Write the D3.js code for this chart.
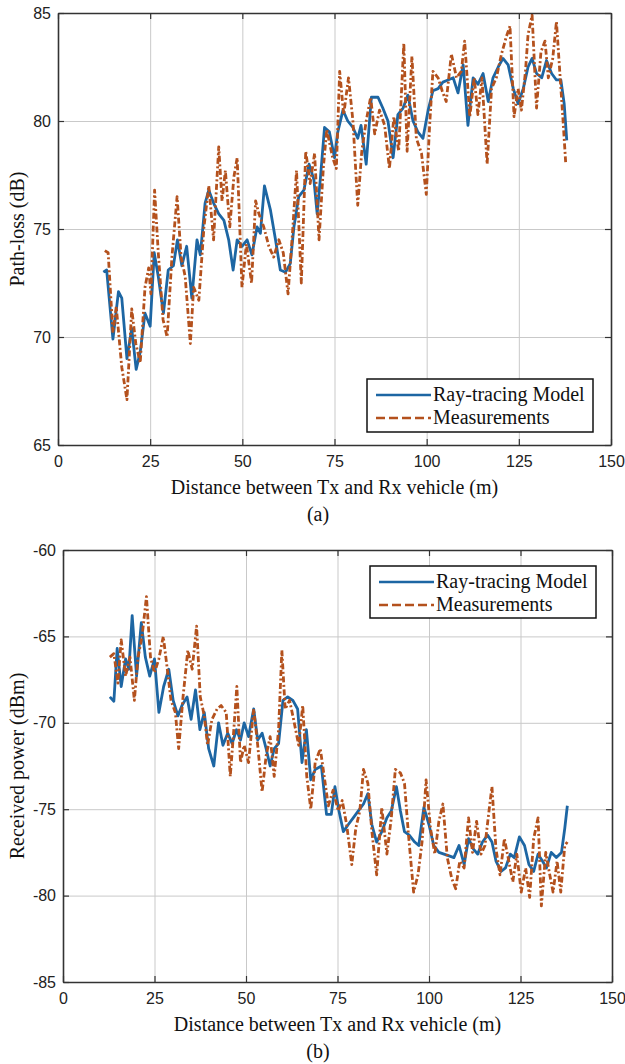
<!DOCTYPE html>
<html>
<head>
<meta charset="utf-8">
<script src="https://cdn.jsdelivr.net/npm/d3@7"></script>
<style>
  html, body { margin: 0; padding: 0; background: #fff; }
  svg { display: block; }
  .tick text { font-family: "Liberation Sans", Arial, sans-serif; font-size: 16px; fill: #222; }
  .ttl { font-family: "Liberation Serif", "Times New Roman", serif; font-size: 20px; fill: #111; }
  .leg { font-family: "Liberation Serif", "Times New Roman", serif; font-size: 20px; fill: #111; }
</style>
</head>
<body>
<script>
// ---- (a) Path-loss versus Tx-Rx distance ----
const plModelDist = [12.3,13.2,14.9,16.4,17.3,18.7,20.0,21.2,22.3,23.6,25.0,26.1,27.2,28.6,29.9,31.3,32.4,33.6,34.9,36.3,37.7,38.6,39.9,40.9,42.2,43.6,45.0,46.3,47.5,48.6,49.9,51.3,52.6,54.0,54.9,56.0,57.6,59.0,60.3,61.7,63.0,64.0,65.3,66.7,68.1,69.4,70.3,71.2,72.3,73.6,75.0,75.9,77.3,78.6,80.0,81.3,82.2,83.6,85.0,86.8,88.1,89.5,90.9,92.2,93.6,94.9,96.3,97.6,99.0,100.4,101.7,103.1,104.4,105.8,107.2,108.5,109.9,111.2,112.6,113.9,115.3,116.7,118.0,119.4,120.7,122.1,123.5,124.8,126.2,127.5,128.6,129.8,131.2,132.5,133.9,135.2,136.4,137.3,138.0];
const plModel = [73.0,73.1,69.9,72.1,71.8,69.0,70.4,68.5,69.3,71.1,70.5,73.9,72.8,71.1,73.1,73.3,74.5,73.3,74.2,71.8,74.5,73.8,76.2,76.8,76.2,75.7,75.4,74.5,73.1,74.5,74.2,74.5,73.8,75.1,74.8,77.0,75.9,74.5,73.1,73.0,73.4,75.1,76.5,76.8,78.0,77.3,75.7,77.4,79.7,79.5,78.3,79.5,80.5,80.0,79.7,79.2,79.8,78.0,81.1,81.1,80.6,80.0,78.3,80.3,80.6,81.2,80.0,79.5,79.2,80.5,81.4,81.5,81.8,81.9,82.0,81.3,82.6,79.8,82.0,81.7,82.2,80.9,82.0,82.5,82.9,82.6,81.5,80.8,81.5,82.5,82.9,82.2,82.0,82.8,82.2,81.9,81.9,80.8,79.1];

const plMeasDist = [12.7,13.6,14.9,15.8,17.3,18.7,20.0,21.1,22.3,23.6,24.6,25.2,26.2,27.2,28.5,29.6,30.9,32.3,33.4,34.5,35.9,36.8,38.2,39.6,40.9,42.2,43.6,44.5,45.4,46.6,47.7,48.6,49.3,49.9,51.1,52.5,53.6,54.5,55.8,57.2,58.5,59.9,61.1,62.4,63.6,64.7,66.0,67.2,68.4,69.6,70.8,72.0,72.9,74.5,75.5,76.4,77.5,78.8,80.0,81.3,82.4,83.6,84.8,85.9,87.2,88.6,89.9,91.1,92.4,93.8,94.7,96.0,97.2,98.6,99.9,100.8,101.7,103.1,104.2,105.3,106.7,108.1,109.4,110.3,111.7,112.9,113.9,115.0,116.4,117.6,118.9,120.3,121.6,122.6,123.7,124.8,125.7,126.8,127.5,128.6,129.8,131.0,132.1,133.0,134.2,135.2,136.1,137.0,137.7];
const plMeas = [74.0,73.9,70.2,71.4,68.6,67.1,71.3,69.7,68.8,72.3,73.2,72.0,76.8,73.9,70.8,70.0,73.7,76.5,73.7,72.8,69.7,72.3,71.7,75.1,77.0,74.5,78.8,76.3,77.7,75.1,77.4,78.3,75.1,72.3,74.3,72.5,76.3,75.7,75.1,74.2,73.7,74.5,73.9,72.0,74.8,77.7,72.5,78.6,77.1,78.5,74.5,77.9,79.6,78.3,77.8,82.3,80.3,82.0,80.0,76.1,78.6,80.0,81.1,79.4,80.5,79.8,77.8,80.2,78.6,83.6,78.6,83.0,79.2,78.5,76.6,79.8,82.3,82.0,81.4,80.9,83.1,82.0,82.3,83.7,80.2,82.0,80.3,82.0,78.0,81.5,82.0,83.1,83.9,84.4,80.2,81.5,80.5,82.3,84.0,84.9,80.6,83.2,83.7,82.0,82.9,84.6,82.3,80.0,78.1];

// ---- (b) Received power versus Tx-Rx distance ----
const rpModelDist = [12.8,13.9,14.8,15.9,17.1,18.0,18.9,20.1,21.4,22.5,23.7,25.0,26.2,27.5,28.9,30.1,31.4,32.5,33.9,35.0,36.2,37.4,38.6,39.8,41.2,42.5,43.7,45.0,46.2,47.4,48.5,49.5,50.7,52.1,53.2,54.4,55.5,56.6,57.7,58.9,60.1,61.4,62.8,64.1,65.3,66.5,67.7,68.9,70.6,72.0,73.3,74.3,75.4,76.6,77.9,79.3,80.7,82.1,83.3,84.4,85.7,87.1,88.5,89.7,91.1,92.2,93.3,94.6,96.1,97.2,98.6,100.0,101.3,102.7,104.1,105.5,106.8,108.2,109.6,110.8,112.1,113.3,114.6,116.0,117.2,118.3,119.7,120.9,122.2,123.3,124.7,126.1,127.3,128.6,129.8,131.0,132.1,133.4,134.8,136.2,137.1,137.8];
const rpModel = [-68.5,-68.75,-65.7,-67.9,-66.3,-66.9,-63.8,-67.3,-64.2,-66.2,-67.3,-66.3,-69.4,-67.9,-66.9,-68.7,-69.6,-69.0,-68.5,-69.8,-68.1,-70.4,-69.4,-71.5,-72.5,-70.0,-71.3,-70.6,-71.2,-70.4,-71.0,-70.0,-70.8,-69.2,-71.0,-70.6,-71.5,-72.5,-71.5,-71.2,-68.7,-68.5,-68.7,-69.2,-72.3,-70.4,-73.3,-72.7,-72.5,-75.3,-75.3,-73.7,-75.1,-76.3,-75.9,-75.5,-75.1,-74.7,-74.1,-75.9,-76.9,-76.3,-75.5,-75.1,-73.7,-75.1,-76.3,-76.5,-76.9,-77.1,-74.9,-75.9,-77.1,-77.5,-77.6,-77.7,-77.8,-77.1,-78.2,-76.7,-77.3,-77.6,-76.9,-76.5,-76.9,-78.0,-78.6,-78.4,-77.6,-77.8,-76.6,-77.1,-78.2,-78.6,-77.6,-78.0,-78.4,-77.5,-77.8,-77.5,-76.1,-74.8];

const rpMeasDist = [12.8,13.9,15.0,15.9,17.1,18.3,19.5,20.5,21.6,22.8,23.9,25.0,26.2,27.4,28.5,29.5,30.7,31.6,32.8,34.1,35.3,36.5,37.5,38.6,39.5,40.7,42.1,43.2,44.6,45.7,46.6,47.5,48.5,49.5,50.7,52.1,53.2,54.4,55.5,56.6,57.7,58.9,59.8,60.7,61.9,63.0,64.4,65.5,66.6,67.7,68.9,70.3,71.5,72.5,73.8,75.2,76.3,77.5,78.9,80.0,81.1,82.1,83.3,84.4,85.7,87.1,88.5,89.7,90.8,92.2,93.3,94.4,95.8,97.0,98.1,99.2,100.4,101.6,102.7,103.8,105.0,106.2,107.3,108.4,109.6,110.8,111.9,113.0,114.2,115.3,116.5,117.2,118.3,119.4,120.6,121.8,122.9,124.0,125.2,126.4,127.5,128.6,129.8,130.7,131.9,133.0,133.9,135.0,136.0,137.1,137.8];
const rpMeas = [-66.2,-66.0,-67.7,-65.2,-67.3,-66.2,-68.7,-66.2,-65.0,-62.7,-66.2,-67.1,-66.3,-65.0,-66.9,-68.7,-69.4,-71.5,-68.5,-65.8,-66.9,-64.4,-68.5,-69.6,-71.3,-69.8,-69.2,-69.0,-69.4,-73.1,-70.6,-67.9,-72.3,-71.3,-72.3,-69.2,-71.3,-74.0,-71.9,-70.8,-73.1,-70.4,-65.8,-69.2,-68.7,-69.8,-71.3,-69.0,-73.1,-75.0,-72.3,-71.5,-73.3,-74.8,-73.9,-75.1,-74.5,-75.9,-78.2,-76.1,-75.1,-72.7,-73.5,-76.3,-78.8,-74.9,-77.6,-75.5,-72.7,-72.9,-73.5,-76.5,-79.8,-78.8,-76.9,-73.3,-76.1,-77.6,-75.7,-74.7,-77.8,-79.0,-79.6,-78.0,-78.4,-75.5,-77.5,-75.7,-77.6,-77.1,-74.9,-73.7,-77.3,-78.8,-76.7,-78.0,-79.2,-77.6,-79.8,-78.4,-80.1,-76.7,-75.5,-80.6,-77.5,-78.8,-79.8,-78.0,-79.8,-77.1,-76.9];

// ---- shared axis settings ----
const xDomain = [0, 150];
const xTicks = [0, 25, 50, 75, 100, 125, 150];
const seriesNames = ["Ray-tracing Model", "Measurements"];

const COLOR_MODEL = "#1d66a3";
const COLOR_MEAS = "#b4511d";
const MEAS_DASH = "6,2.5,2,2.5";

const W = 625, H = 1064;
const svg = d3.select("body").append("svg").attr("width", W).attr("height", H);

const panels = [
  {
    box: { left: 58, top: 13, right: 611, bottom: 445 },
    yDomain: [65, 85], yTicks: [65, 70, 75, 80, 85],
    yLabel: "Path-loss (dB)",
    caption: "(a)",
    model: { x: plModelDist, y: plModel },
    meas: { x: plMeasDist, y: plMeas },
    legend: { x: 367, y: 379, w: 226, h: 53 }
  },
  {
    box: { left: 63, top: 550, right: 612, bottom: 982 },
    yDomain: [-85, -60], yTicks: [-85, -80, -75, -70, -65, -60],
    yLabel: "Received power (dBm)",
    caption: "(b)",
    model: { x: rpModelDist, y: rpModel },
    meas: { x: rpMeasDist, y: rpMeas },
    legend: { x: 370, y: 566, w: 226, h: 52 }
  }
];

// plain hyphen-minus for negative tick labels
const tickFmt = d => String(d);

panels.forEach(p => {
  const b = p.box;
  const w = b.right - b.left, h = b.bottom - b.top;
  const x = d3.scaleLinear().domain(xDomain).range([0, w]);
  const y = d3.scaleLinear().domain(p.yDomain).range([h, 0]);
  const g = svg.append("g").attr("transform", `translate(${b.left},${b.top})`);

  // grid
  const gridStyle = sel => {
    sel.select(".domain").remove();
    sel.selectAll(".tick line").attr("stroke", "#c9c9c9").attr("stroke-width", 1);
  };
  g.append("g").attr("transform", `translate(0,${h})`)
    .call(d3.axisBottom(x).tickValues(xTicks.slice(1, -1)).tickSize(-h).tickFormat(""))
    .call(gridStyle);
  g.append("g")
    .call(d3.axisLeft(y).tickValues(p.yTicks.slice(1, -1)).tickSize(-w).tickFormat(""))
    .call(gridStyle);

  // data lines
  const line = d3.line().x(d => x(d[0])).y(d => y(d[1]));
  const modelPts = p.model.x.map((v, i) => [v, p.model.y[i]]);
  const measPts = p.meas.x.map((v, i) => [v, p.meas.y[i]]);
  g.append("path").datum(modelPts).attr("d", line)
    .attr("fill", "none").attr("stroke", COLOR_MODEL).attr("stroke-width", 2.8)
    .attr("stroke-linejoin", "round");
  g.append("path").datum(measPts).attr("d", line)
    .attr("fill", "none").attr("stroke", COLOR_MEAS).attr("stroke-width", 2.8)
    .attr("stroke-dasharray", MEAS_DASH).attr("stroke-linejoin", "round");

  // axes with inward ticks on all four sides
  const axStyle = sel => {
    sel.select(".domain").attr("stroke", "#333").attr("stroke-width", 1.6);
    sel.selectAll(".tick line").attr("stroke", "#333").attr("stroke-width", 1.2);
  };
  g.append("g").attr("transform", `translate(0,${h})`)
    .call(d3.axisBottom(x).tickValues(xTicks).tickSizeInner(-6).tickSizeOuter(0).tickPadding(11).tickFormat(tickFmt))
    .call(axStyle);
  g.append("g")
    .call(d3.axisTop(x).tickValues(xTicks).tickSizeInner(-6).tickSizeOuter(0).tickFormat(""))
    .call(axStyle);
  g.append("g")
    .call(d3.axisLeft(y).tickValues(p.yTicks).tickSizeInner(-6).tickSizeOuter(0).tickPadding(7).tickFormat(tickFmt))
    .call(axStyle);
  g.append("g").attr("transform", `translate(${w},0)`)
    .call(d3.axisRight(y).tickValues(p.yTicks).tickSizeInner(-6).tickSizeOuter(0).tickFormat(""))
    .call(axStyle);
  g.selectAll(".tick text").attr("font-family", null).attr("font-size", null);

  // axis titles and caption
  g.append("text").attr("class", "ttl").attr("text-anchor", "middle")
    .attr("x", w / 2).attr("y", h + 49).text("Distance between Tx and Rx vehicle (m)");
  g.append("text").attr("class", "ttl").attr("text-anchor", "middle")
    .attr("transform", `translate(${24 - b.left},${h / 2}) rotate(-90)`).text(p.yLabel);
  g.append("text").attr("class", "ttl").attr("text-anchor", "middle")
    .attr("x", 318 - b.left).attr("y", h + 76).text(p.caption);

  // legend
  const L = p.legend;
  const lg = svg.append("g").attr("transform", `translate(${L.x},${L.y})`);
  lg.append("rect").attr("width", L.w).attr("height", L.h)
    .attr("fill", "#fff").attr("stroke", "#111").attr("stroke-width", 1.5);
  const rows = [
    { name: seriesNames[0], color: COLOR_MODEL, dash: null },
    { name: seriesNames[1], color: COLOR_MEAS, dash: "9,4" }
  ];
  rows.forEach((r, i) => {
    const cy = 16 + i * 23;
    lg.append("line").attr("x1", 9).attr("x2", 64).attr("y1", cy).attr("y2", cy)
      .attr("stroke", r.color).attr("stroke-width", 2.6)
      .attr("stroke-dasharray", r.dash);
    lg.append("text").attr("class", "leg").attr("x", 66).attr("y", cy + 6).text(r.name);
  });
});
</script>
</body>
</html>
